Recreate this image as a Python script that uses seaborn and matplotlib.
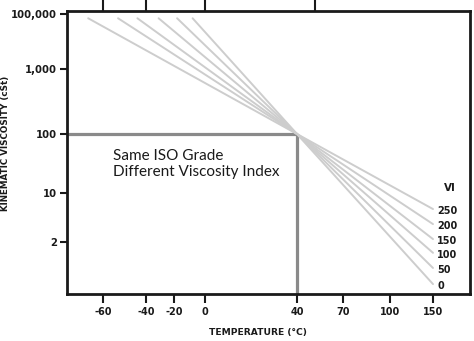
import numpy as np
import pandas as pd
import matplotlib
matplotlib.use("Agg")
from matplotlib import pyplot as plt
import seaborn as sns

# valores
vi_values = [250, 200, 150, 100, 50, 0]
start_temp = [-67, -53, -44, -31, -18, -8]
start_visc = 70000
ref_temp = 40
ref_visc = 100
end_temp = 150
end_visc = [5.9, 3.6, 2.2, 1.4, 0.85, 0.5]

temp_ticks = [-60, -40, -20, 0, 40, 70, 100, 150]
visc_ticks = [2, 10, 100, 1000, 100000]
visc_labels = ["2", "10", "100", "1,000", "100,000"]
top_ticks = [-60, -40, 0, 52]

# la escala del original no es regular, se arma por tramos
x_anchor_t = [-77, -60, -40, -20, 0, 40, 70, 100, 150, 192]
x_anchor_p = [67, 103, 146, 174, 205, 297, 343, 390, 433, 470]
y_anchor_v = np.log10([0.361, 2, 10, 100, 1000, 100000, 134000])
y_anchor_p = [0, 52, 101, 160, 225, 280, 283.5]

def fwd_x(t):
    return np.interp(t, x_anchor_t, x_anchor_p)

def inv_x(p):
    return np.interp(p, x_anchor_p, x_anchor_t)

def fwd_y(v):
    return np.interp(np.log10(np.maximum(v, 1e-12)), y_anchor_v, y_anchor_p)

def inv_y(p):
    return 10 ** np.interp(p, y_anchor_p, y_anchor_v)

rows = []
for vi, t0, v1 in zip(vi_values, start_temp, end_visc):
    rows.append({"VI": vi, "temp": t0, "visc": start_visc})
    rows.append({"VI": vi, "temp": ref_temp, "visc": ref_visc})
    rows.append({"VI": vi, "temp": end_temp, "visc": v1})
df = pd.DataFrame(rows)

sns.set_theme(style="ticks")
plt.rcParams["font.family"] = ["DejaVu Sans"]

fig = plt.figure(figsize=(4.74, 3.41), dpi=100)
ax = fig.add_axes([67 / 474, (341 - 294) / 341, (470 - 67) / 474, (294 - 10.5) / 341])

sns.lineplot(data=df, x="temp", y="visc", units="VI", estimator=None,
             color="#cdcdcd", linewidth=1.4, ax=ax, zorder=3)

ax.set_xscale("function", functions=(fwd_x, inv_x))
ax.set_yscale("function", functions=(fwd_y, inv_y))
ax.set_xlim(x_anchor_t[0], x_anchor_t[-1])
ax.set_ylim(10 ** y_anchor_v[0], 10 ** y_anchor_v[-1])

# lineas de referencia (ISO 100 a 40 C)
xmin = ax.get_xlim()[0]
ymin = ax.get_ylim()[0]
ax.hlines(ref_visc, xmin, ref_temp, color="#8a8a8a", linewidth=2.3, zorder=2)
ax.vlines(ref_temp, ymin, ref_visc, color="#8a8a8a", linewidth=2.3, zorder=2)

ax.set_xticks(temp_ticks)
ax.set_xticklabels([str(t) for t in temp_ticks])
ax.set_yticks(visc_ticks)
ax.set_yticklabels(visc_labels)
ax.minorticks_off()

for s in ax.spines.values():
    s.set_linewidth(2)
    s.set_color("#1a1a1a")
ax.tick_params(axis="x", length=6.5, width=1.5, color="#1a1a1a", pad=3,
               labelsize=7, labelcolor="#1a1a1a")
ax.tick_params(axis="y", length=5, width=1.5, color="#1a1a1a", pad=2,
               labelsize=7.3, labelcolor="#1a1a1a")
for lab in ax.get_xticklabels() + ax.get_yticklabels():
    lab.set_fontweight("bold")

ax.set_xlabel("TEMPERATURE (°C)", fontsize=6.6, fontweight="bold", color="#1a1a1a")
ax.set_ylabel("KINEMATIC VISCOSITY (cSt)", fontsize=6.3, fontweight="bold", color="#1a1a1a")
ax.xaxis.set_label_coords(0.475, -0.12)
ax.yaxis.set_label_coords(-0.142, 0.53)

# ticks de arriba
ax2 = ax.twiny()
ax2.set_xscale("function", functions=(fwd_x, inv_x))
ax2.set_xlim(ax.get_xlim())
ax2.set_xticks(top_ticks)
ax2.set_xticklabels([])
ax2.minorticks_off()
ax2.tick_params(axis="x", length=8, width=1.5, color="#1a1a1a")
for s in ax2.spines.values():
    s.set_visible(False)

ax.text(0.114, 0.512, "Same ISO Grade\nDifferent Viscosity Index",
        transform=ax.transAxes, ha="left", va="top", fontsize=11,
        family=["Lato", "DejaVu Sans"], color="#1a1a1a", linespacing=1.2)

for vi, v1 in zip(vi_values, end_visc):
    ax.annotate(str(vi), xy=(end_temp, v1), xytext=(3, -1.2),
                textcoords="offset points", ha="left", va="center",
                fontsize=7, fontweight="bold", color="#1a1a1a")
ax.annotate("VI", xy=(end_temp, end_visc[0]), xytext=(12, 15),
            textcoords="offset points", ha="center", va="center",
            fontsize=7.5, fontweight="bold", color="#1a1a1a")

fig.savefig("out.png", dpi=100)
